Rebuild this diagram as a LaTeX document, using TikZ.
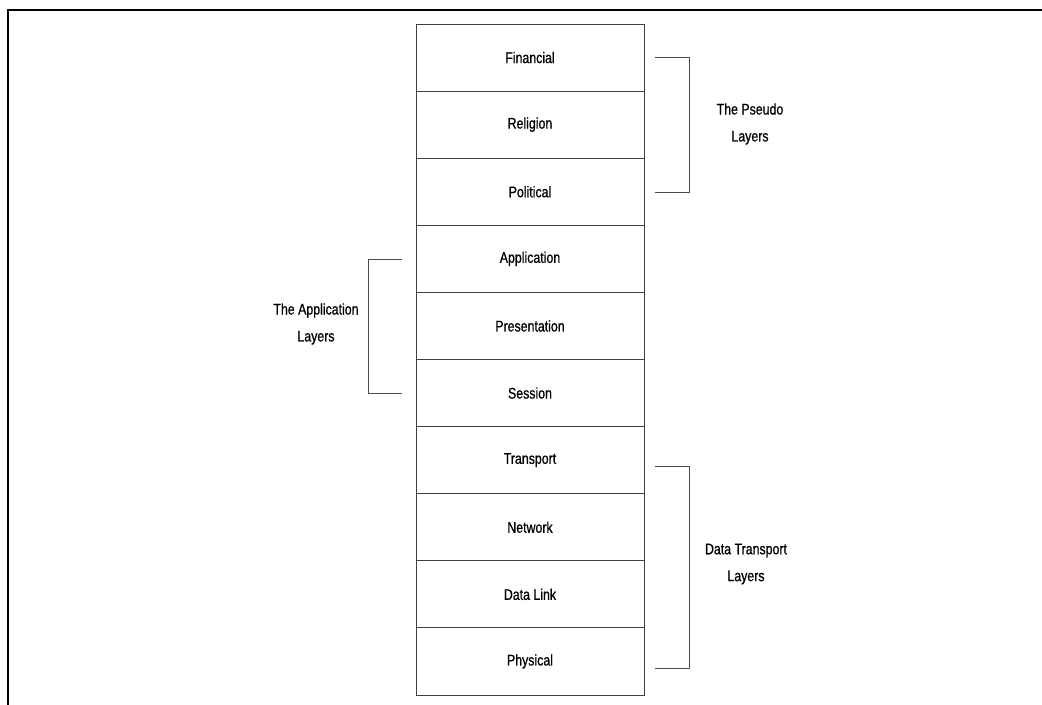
\documentclass[tikz,border=0pt]{standalone}
\usepackage{fontspec}
\setmainfont{Liberation Sans}[FakeStretch=0.8,FakeBold=0.8]
\begin{document}
\begin{tikzpicture}[x=1bp,y=-1bp,
  layerbox/.style={draw=black!75,line width=0.9bp,minimum width=228bp,minimum height=67.1bp,inner sep=0pt,font=\fontsize{15.5}{18}\selectfont},
  brace/.style={draw=black!70,line width=0.9bp},
  grouplabel/.style={align=center,font=\fontsize{15.5}{27}\selectfont}]
\useasboundingbox (0,0) rectangle (1042,705);
% outer frame (top and left edges)
\draw[line width=2bp] (8,705) -- (8,10) -- (1042,10);
% stack of layers
\foreach \t [count=\i from 0] in {Financial,Religion,Political,Application,Presentation,Session,Transport,Network,Data Link,Physical}{
  \node[layerbox] (L\i) at (530,{24+33.55+67.1*\i}) {\t};
}
% group brackets
\coordinate (p1) at (655,57);
\coordinate (p2) at (655,192);
\draw[brace] (p1) -- (689,57) -- (689,192) -- (p2);
\node[grouplabel] (pl) at (750,124) {The Pseudo\\Layers};
\coordinate (a1) at (402,259);
\coordinate (a2) at (402,393);
\draw[brace] (a1) -- (368,259) -- (368,393) -- (a2);
\node[grouplabel] (al) at (316,324) {The Application\\Layers};
\coordinate (d1) at (655,466);
\coordinate (d2) at (655,668);
\draw[brace] (d1) -- (689,466) -- (689,668) -- (d2);
\node[grouplabel] (dl) at (746,564) {Data Transport\\Layers};
\end{tikzpicture}
\end{document}
